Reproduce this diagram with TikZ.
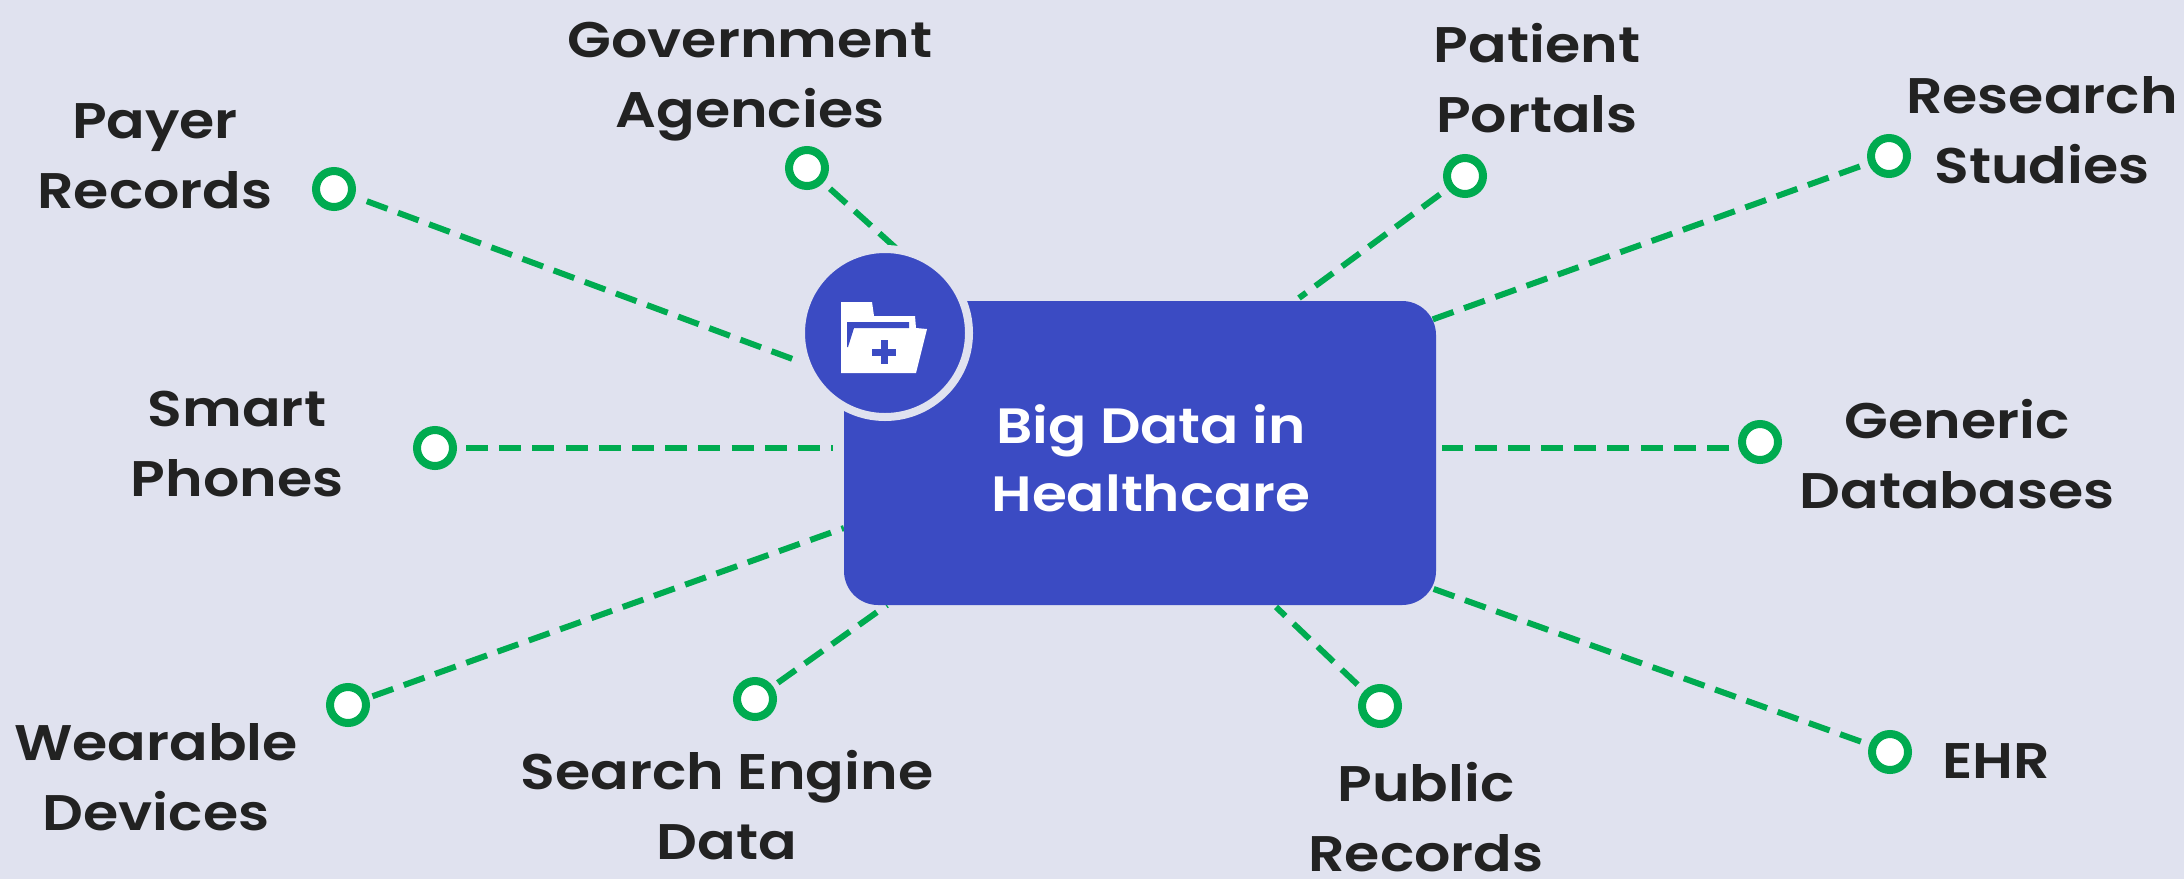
\documentclass[tikz,border=0pt]{standalone}
\usepackage{fontspec}
\setmainfont[FakeStretch=1.14]{Poppins SemiBold}
\definecolor{bgc}{HTML}{E0E2EF}
\definecolor{bluec}{HTML}{3B4BC3}
\definecolor{greenc}{HTML}{00AB50}
\definecolor{inkc}{HTML}{222222}
\tikzset{
  dotnode/.style={circle,draw=greenc,fill=white,line width=4pt,minimum size=18pt,inner sep=0pt},
  linkline/.style={draw=greenc,line width=3pt,dash pattern=on 11pt off 5.6pt,shorten <=4.5pt},
  lab/.style={text=inkc,align=center,font=\fontsize{25}{35}\selectfont,inner sep=0pt},
  mainbox/.style={fill=bluec,rounded corners=17pt,inner sep=0pt},
}
\begin{document}
\begin{tikzpicture}[x=0.5pt,y=-0.5pt]
\useasboundingbox (0,0) rectangle (2184,879);
\fill[bgc] (0,0) rectangle (2184,879);
% free ends of the connectors, at the box
\coordinate (ePayer) at (798,361);
\coordinate (eGov) at (898,250);
\coordinate (ePatient) at (1299,298);
\coordinate (eResearch) at (1431,320);
\coordinate (eGeneric) at (1442,448);
\coordinate (eEhr) at (1431,588);
\coordinate (ePublic) at (1276,607);
\coordinate (eSearch) at (887,605);
\coordinate (eWear) at (844,528);
\coordinate (eSmart) at (833,448);
% dots
\node[dotnode] (dPayer) at (334,189) {};
\node[dotnode] (dGov) at (807,168) {};
\node[dotnode] (dPatient) at (1465,176) {};
\node[dotnode] (dResearch) at (1889,156) {};
\node[dotnode] (dGeneric) at (1760,442) {};
\node[dotnode] (dEhr) at (1890,752) {};
\node[dotnode] (dPublic) at (1380,706) {};
\node[dotnode] (dSearch) at (755,699) {};
\node[dotnode] (dWear) at (348,705) {};
\node[dotnode] (dSmart) at (435,448) {};
% connectors
\draw[linkline,shorten <=6.5pt] (dPayer) -- (ePayer);
\draw[linkline] (dGov) -- (eGov);
\draw[linkline] (dPatient) -- (ePatient);
\draw[linkline] (dResearch) -- (eResearch);
\draw[linkline] (dGeneric.west |- eGeneric) -- (eGeneric);
\draw[linkline] (dEhr) -- (eEhr);
\draw[linkline] (dPublic) -- (ePublic);
\draw[linkline,shorten <=3pt] (dSearch) -- (eSearch);
\draw[linkline,shorten <=2pt] (dWear) -- (eWear);
\draw[linkline] (dSmart) -- (eSmart);
% centre box
\node[mainbox,minimum width=296pt,minimum height=152pt] (box) at (1140,453) {};
\node[lab,text=white,font=\fontsize{24.8}{34}\selectfont] (title) at (1151,458) {Big Data in\\Healthcare};
% icon disc
\node[circle,fill=bluec,draw=bgc,line width=4pt,minimum size=84pt,inner sep=0pt] (disc) at (885,333) {};
\fill[white] (841,302) -- (872,302) -- (874,316) -- (915,316) -- (916,328) -- (927,329) -- (916,373) -- (841,373) -- cycle;
\fill[bluec] (847,322) -- (909,322) -- (909,328) -- (854,328) -- (848,347) -- (847,347) -- cycle;
\fill[bluec] (872,348.5) rectangle (896,355.5);
\fill[bluec] (880.5,340) rectangle (887.5,364);
% labels
\node[lab] (lPayer) at (155,156) {Payer\\Records};
\node[lab] (lGov) at (750,82) {Government\\Agencies};
\node[lab] (lPatient) at (1537,78) {Patient\\Portals};
\node[lab] (lResearch) at (2042,130) {Research\\Studies};
\node[lab] (lGeneric) at (1957,454) {Generic\\Databases};
\node[lab] (lEhr) at (1996,761) {EHR};
\node[lab] (lPublic) at (1426,817) {Public\\Records};
\node[lab] (lSearch) at (727,805) {Search Engine\\Data};
\node[lab] (lWear) at (156,777) {Wearable\\Devices};
\node[lab] (lSmart) at (237,444) {Smart\\Phones};
\end{tikzpicture}
\end{document}
